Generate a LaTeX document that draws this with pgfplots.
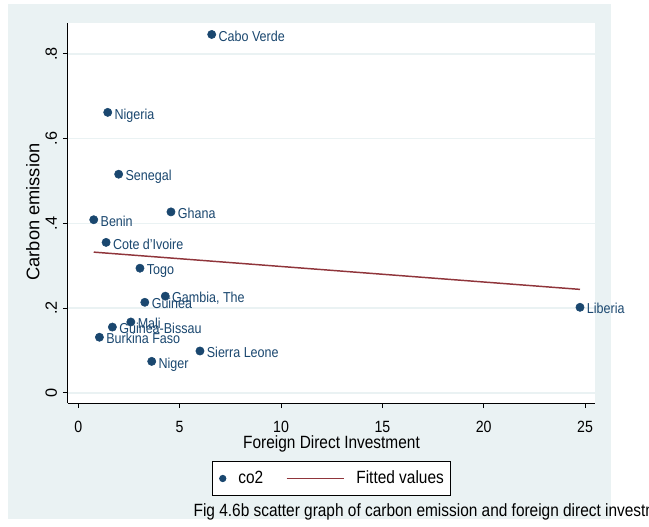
\documentclass[border=0pt]{standalone}
\usepackage{fontspec}
\setmainfont{Liberation Sans}[FakeStretch=0.87]
\newfontfamily\rotfont{Liberation Sans}
\usepackage{pgfplots}
\usepackage{pgfplotstable}
\pgfplotsset{compat=1.18}

\definecolor{stbg}{RGB}{234,242,243}
\definecolor{stnavy}{RGB}{26,71,111}
\definecolor{stmaroon}{RGB}{144,53,59}

% FDI (x) and carbon emission (y) by country
\pgfplotstableread[col sep=semicolon]{
x;y;name
6.58;0.846;Cabo Verde
1.45;0.662;Nigeria
1.99;0.516;Senegal
4.57;0.427;Ghana
0.76;0.4085;Benin
1.37;0.355;Cote d'Ivoire
3.04;0.294;Togo
4.29;0.228;Gambia, The
3.28;0.2135;Guinea
2.59;0.167;Mali
1.68;0.155;Guinea-Bissau
1.04;0.131;Burkina Faso
6.00;0.0985;Sierra Leone
3.62;0.074;Niger
24.75;0.2017;Liberia
}\countries

% linear fit
\pgfplotstableread{
x y
0.76 0.332
24.75 0.244
}\fitted

\begin{document}
\begin{tikzpicture}
% page: 649 x 526 units of 0.75pt
\useasboundingbox (0pt,0pt) rectangle (486.75pt,394.5pt);
\clip (0pt,0pt) rectangle (486.75pt,394.5pt);
\fill[stbg] (6pt,5.25pt) rectangle (458.25pt,391.5pt);
\begin{axis}[
  scale only axis,
  width=395.25pt, height=285pt,
  at={(51pt,92.25pt)}, anchor=south west,
  xmin=-0.51, xmax=25.49, ymin=-0.0243, ymax=0.873,
  axis x line*=bottom, axis y line*=left,
  axis line style={black, line width=0.75pt, -},
  axis background/.style={fill=white},
  tick align=outside, major tick length=3.75pt,
  tick style={black, line width=0.75pt},
  xtick={0,5,...,25}, ytick={0,0.2,0.4,0.6,0.8},
  yticklabels={0,.2,.4,.6,.8},
  ymajorgrids, major grid style={stbg, line width=1.2pt},
  /pgf/number format/assume math mode=true,
  xticklabel style={font=\fontsize{12.2}{14}\selectfont, inner sep=0pt, anchor=north},
  yticklabel style={font=\rotfont\fontsize{12.2}{14}\selectfont, inner sep=0pt, rotate=90, anchor=base},
  xticklabel shift=9.5pt,
  yticklabel shift=4.5pt,
  xlabel={Foreign Direct Investment},
  ylabel={Carbon emission},
  xlabel style={font=\fontsize{13.3}{15}\selectfont, inner sep=0pt, at={(axis description cs:0.5,-0.1192)}, anchor=base},
  ylabel style={font=\rotfont\fontsize{13.7}{15}\selectfont, inner sep=0pt, at={(axis description cs:-0.0545,0.5026)}, anchor=base},
  legend style={at={(0.5,-0.1987)}, anchor=center, draw=black, line width=0.6pt,
    fill=white, font=\fontsize{13.3}{15}\selectfont, legend columns=2,
    inner xsep=5pt, inner ysep=7pt,
    nodes={inner sep=0pt, text=black},
    /tikz/every odd column/.append style={column sep=9pt},
    /tikz/every even column/.append style={column sep=17pt}},
]
\addplot[only marks, mark=*, mark size=3.1pt, color=stnavy,
  nodes near coords, point meta=explicit symbolic,
  every node near coord/.append style={anchor=base west, inner sep=0pt,
    xshift=5pt, yshift=-5pt, text=stnavy, font=\fontsize{10.8}{12}\selectfont},
  legend image code/.code={\fill[stnavy] (0pt,0pt) circle (2.4pt);}]
  table[x=x, y=y, meta=name] {\countries};
\addlegendentry{co2}
\addplot[stmaroon, line width=1.1pt, no marks,
  legend image code/.code={\draw[stmaroon, line width=1.1pt] (0pt,0pt) -- (42.75pt,0pt);}]
  table[x=x, y=y] {\fitted};
\addlegendentry{Fitted values}
\end{axis}
\node[anchor=base west, inner sep=0pt, font=\fontsize{13.3}{15}\selectfont]
  at (145pt,7.5pt) {Fig 4.6b scatter graph of carbon emission and foreign direct investment};
\end{tikzpicture}
\end{document}
